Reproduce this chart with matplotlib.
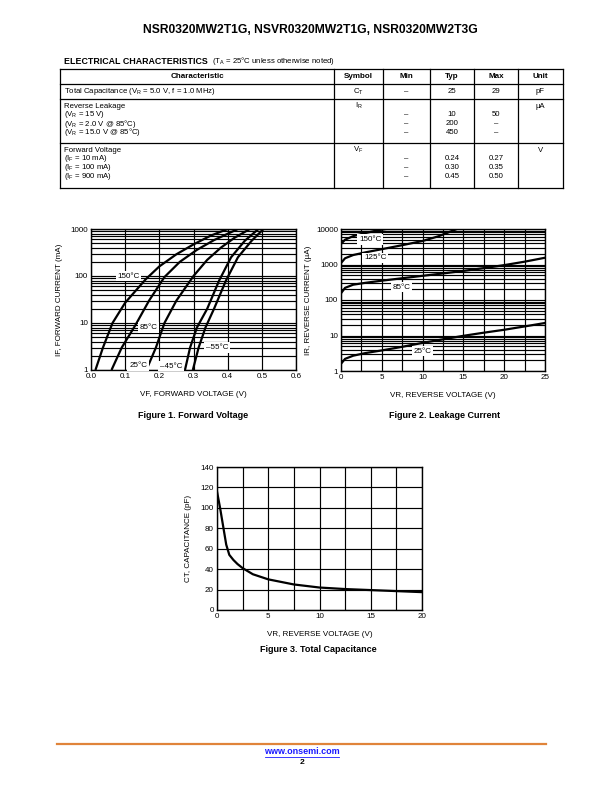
import numpy as np
import matplotlib
matplotlib.use("Agg")
from matplotlib import pyplot as plt
from matplotlib.ticker import FixedLocator, NullFormatter

plt.rcParams['font.family'] = ['Liberation Sans', 'DejaVu Sans']
plt.rcParams['mathtext.fontset'] = 'custom'
plt.rcParams['mathtext.rm'] = 'Liberation Sans'

W, H = 612, 792

# ---- table data ----
title = "NSR0320MW2T1G, NSVR0320MW2T1G, NSR0320MW2T3G"
col_heads = ["Characteristic", "Symbol", "Min", "Typ", "Max", "Unit"]
char_rows = [
    ["Total Capacitance (V$_\\mathregular{R}$ = 5.0 V, f = 1.0 MHz)"],
    ["Reverse Leakage", "(V$_\\mathregular{R}$ = 15 V)",
     "(V$_\\mathregular{R}$ = 2.0 V @ 85°C)", "(V$_\\mathregular{R}$ = 15.0 V @ 85°C)"],
    ["Forward Voltage", "(I$_\\mathregular{F}$ = 10 mA)",
     "(I$_\\mathregular{F}$ = 100 mA)", "(I$_\\mathregular{F}$ = 900 mA)"],
]
symbols = ["C$_\\mathregular{T}$", "I$_\\mathregular{R}$", "V$_\\mathregular{F}$"]
min_vals = [["–"], ["", "–", "–", "–"], ["", "–", "–", "–"]]
typ_vals = [["25"], ["", "10", "200", "450"], ["", "0.24", "0.30", "0.45"]]
max_vals = [["29"], ["", "50", "–", "–"], ["", "0.27", "0.35", "0.50"]]
units = ["pF", "µA", "V"]

# ---- figure 1: forward voltage (V, mA) ----
vf_150 = [0.013, 0.035, 0.063, 0.10, 0.16, 0.20, 0.25, 0.30, 0.35, 0.40]
if_150 = [1, 3, 10, 27, 85, 160, 290, 470, 720, 1000]
vf_85 = [0.060, 0.09, 0.13, 0.17, 0.215, 0.26, 0.31, 0.36, 0.43]
if_85 = [1, 3, 9, 30, 95, 200, 360, 580, 1000]
vf_25 = [0.162, 0.19, 0.215, 0.25, 0.30, 0.34, 0.38, 0.42, 0.465]
if_25 = [1, 3, 10, 30, 100, 220, 400, 650, 1000]
vf_m45 = [0.275, 0.29, 0.31, 0.34, 0.375, 0.41, 0.45, 0.49]
if_m45 = [1, 3, 8, 20, 80, 250, 560, 1000]
vf_m55 = [0.298, 0.315, 0.335, 0.36, 0.395, 0.43, 0.47, 0.505]
if_m55 = [1, 3, 8, 20, 80, 250, 560, 1000]

# ---- figure 2: leakage current (V, uA) ----
vr_25 = [0, 0.5, 1.5, 3, 5, 7.5, 10, 12.5, 15, 17.5, 20, 22.5, 25]
ir_25 = [1.6, 2.2, 2.7, 3.2, 3.8, 4.8, 6.2, 7.8, 9.8, 12, 14.5, 18, 22.5]
vr_85 = [0, 0.5, 1.5, 3, 5, 7.5, 10, 12.5, 15, 17.5, 20, 22.5, 25]
ir_85 = [155, 220, 270, 305, 350, 410, 480, 560, 660, 790, 960, 1200, 1550]
vr_125 = [0, 0.5, 1.5, 3, 5, 7.5, 10, 12, 14.2]
ir_125 = [1100, 1500, 1850, 2200, 2700, 3500, 4600, 6300, 10000]
vr_150 = [0, 0.5, 1.5, 3, 4.5, 5.5]
ir_150 = [3800, 5000, 6300, 7700, 9200, 10000]

# ---- figure 3: capacitance (V, pF) ----
vr_c = [0, 0.3, 0.6, 0.9, 1.2, 1.6, 2.0, 2.5, 3.5, 5, 7.5, 10, 12.5, 15, 17.5, 20]
ct = [116, 100, 82, 64, 54, 49, 45, 41, 35, 30, 25, 22, 20.5, 19.5, 18.5, 17.5]


def px_axes(fig, l, t, r, b):
    return fig.add_axes([l / W, 1 - b / H, (r - l) / W, (b - t) / H])


fig = plt.figure(figsize=(W / 100, H / 100), dpi=100)
page = fig.add_axes([0, 0, 1, 1])
page.set_xlim(0, W)
page.set_ylim(H, 0)
page.axis('off')

page.text(310, 30, title, ha='center', va='center', fontsize=8.7, fontweight='bold')
page.text(64, 61, "ELECTRICAL CHARACTERISTICS", ha='left', va='center',
          fontsize=6.4, fontweight='bold')
page.text(212, 61, "(T$_\\mathregular{A}$ = 25°C unless otherwise noted)", ha='left',
          va='center', fontsize=5.6)

# table grid
cols = [60, 334, 383, 430, 474, 518, 563]
rows = [69, 84, 99, 143, 188]
for y in rows:
    page.plot([cols[0], cols[-1]], [y, y], color='black', lw=0.9)
for x in cols:
    page.plot([x, x], [rows[0], rows[-1]], color='black', lw=0.9)
centers = [(cols[i] + cols[i + 1]) / 2 for i in range(len(cols) - 1)]
for i, h in enumerate(col_heads):
    page.text(centers[i], 76.5, h, ha='center', va='center', fontsize=5.8, fontweight='bold')

fs = 5.6
line_y = [[91.5], [106, 114.8, 123.6, 132.4], [150, 158.8, 167.6, 176.4]]
for r in range(3):
    for k, s in enumerate(char_rows[r]):
        page.text(64, line_y[r][k], s, ha='left', va='center', fontsize=fs)
    page.text(centers[1], line_y[r][0], symbols[r], ha='center', va='center', fontsize=fs)
    page.text(centers[5], line_y[r][0], units[r], ha='center', va='center', fontsize=fs)
    for k in range(len(line_y[r])):
        page.text(centers[2], line_y[r][k], min_vals[r][k], ha='center', va='center', fontsize=fs)
        page.text(centers[3], line_y[r][k], typ_vals[r][k], ha='center', va='center', fontsize=fs)
        page.text(centers[4], line_y[r][k], max_vals[r][k], ha='center', va='center', fontsize=fs)

lab_fs = 5.8
box = dict(facecolor='white', edgecolor='none', pad=1.2)


def style_axes(ax):
    for s in ax.spines.values():
        s.set_linewidth(1.0)
    ax.tick_params(length=0, labelsize=lab_fs, pad=2.2)


# figure 1
ax1 = px_axes(fig, 91, 229, 296, 370)
ax1.set_yscale('log')
ax1.set_xlim(0, 0.6)
ax1.set_ylim(1, 1000)
ax1.xaxis.set_major_locator(FixedLocator(np.arange(0, 0.61, 0.1)))
ax1.set_xticklabels(["0.0", "0.1", "0.2", "0.3", "0.4", "0.5", "0.6"])
ax1.yaxis.set_major_locator(FixedLocator([1, 10, 100, 1000]))
ax1.set_yticklabels(["1", "10", "100", "1000"])
ax1.yaxis.set_minor_formatter(NullFormatter())
ax1.grid(True, which='both', color='black', lw=0.85)
style_axes(ax1)
ax1.tick_params(which='minor', length=0)
for v, i in [(vf_150, if_150), (vf_85, if_85), (vf_25, if_25), (vf_m45, if_m45), (vf_m55, if_m55)]:
    ax1.plot(v, i, color='black', lw=1.6, solid_capstyle='butt')
ax1.text(0.11, 100, "150°C", fontsize=lab_fs, ha='center', va='center', bbox=box)
ax1.text(0.168, 8.0, "85°C", fontsize=lab_fs, ha='center', va='center', bbox=box)
ax1.text(0.138, 1.25, "25°C", fontsize=lab_fs, ha='center', va='center', bbox=box)
ax1.text(0.235, 1.2, "–45°C", fontsize=lab_fs, ha='center', va='center', bbox=box)
ax1.text(0.37, 3.0, "–55°C", fontsize=lab_fs, ha='center', va='center', bbox=box)
ax1.set_xlabel("VF, FORWARD VOLTAGE (V)", fontsize=lab_fs, labelpad=8)
ax1.set_ylabel("IF, FORWARD CURRENT (mA)", fontsize=lab_fs, labelpad=5)
page.text(193, 415, "Figure 1. Forward Voltage", ha='center', va='center',
          fontsize=6.5, fontweight='bold')

# figure 2
ax2 = px_axes(fig, 341, 229, 545, 371)
ax2.set_yscale('log')
ax2.set_xlim(0, 25)
ax2.set_ylim(1, 10000)
ax2.xaxis.set_major_locator(FixedLocator([0, 5, 10, 15, 20, 25]))
ax2.xaxis.set_minor_locator(FixedLocator(np.arange(2.5, 25, 5)))
ax2.yaxis.set_major_locator(FixedLocator([1, 10, 100, 1000, 10000]))
ax2.set_yticklabels(["1", "10", "100", "1000", "10000"])
ax2.yaxis.set_minor_formatter(NullFormatter())
ax2.grid(True, which='both', color='black', lw=0.85)
style_axes(ax2)
ax2.tick_params(which='minor', length=0)
for v, i in [(vr_25, ir_25), (vr_85, ir_85), (vr_125, ir_125), (vr_150, ir_150)]:
    ax2.plot(v, i, color='black', lw=1.6)
ax2.text(3.6, 5000, "150°C", fontsize=lab_fs, ha='center', va='center', bbox=box)
ax2.text(4.2, 1550, "125°C", fontsize=lab_fs, ha='center', va='center', bbox=box)
ax2.text(7.4, 230, "85°C", fontsize=lab_fs, ha='center', va='center', bbox=box)
ax2.text(10.0, 3.6, "25°C", fontsize=lab_fs, ha='center', va='center', bbox=box)
ax2.set_xlabel("VR, REVERSE VOLTAGE (V)", fontsize=lab_fs, labelpad=8)
ax2.set_ylabel("IR, REVERSE CURRENT (µA)", fontsize=lab_fs, labelpad=3)
page.text(445, 415, "Figure 2. Leakage Current", ha='center', va='center',
          fontsize=6.5, fontweight='bold')

# figure 3
ax3 = px_axes(fig, 217, 467, 422, 610)
ax3.set_xlim(0, 20)
ax3.set_ylim(0, 140)
ax3.xaxis.set_major_locator(FixedLocator([0, 5, 10, 15, 20]))
ax3.xaxis.set_minor_locator(FixedLocator(np.arange(2.5, 20, 5)))
ax3.yaxis.set_major_locator(FixedLocator(np.arange(0, 141, 20)))
ax3.grid(True, which='both', color='black', lw=0.85)
style_axes(ax3)
ax3.tick_params(which='minor', length=0)
ax3.plot(vr_c, ct, color='black', lw=1.6)
ax3.set_xlabel("VR, REVERSE VOLTAGE (V)", fontsize=lab_fs, labelpad=8)
ax3.set_ylabel("CT, CAPACITANCE (pF)", fontsize=lab_fs, labelpad=6)
page.text(318, 650, "Figure 3. Total Capacitance", ha='center', va='center',
          fontsize=6.5, fontweight='bold')

# footer
page.plot([57, 546], [744, 744], color='#e0843a', lw=1.6)
page.text(302, 752, "www.onsemi.com", ha='center', va='center', fontsize=6.5,
          fontweight='bold', color='#1a1aff')
page.plot([265, 339], [757, 757], color='#1a1aff', lw=0.6)
page.text(302, 762, "2", ha='center', va='center', fontsize=6.0, fontweight='bold')

fig.savefig("out.png", dpi=100)
